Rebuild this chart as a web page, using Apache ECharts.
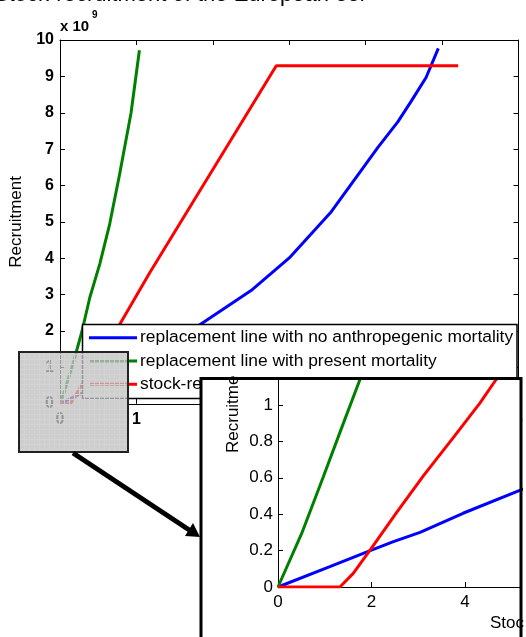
<!DOCTYPE html>
<html>
<head>
<meta charset="utf-8">
<script src="https://cdn.jsdelivr.net/npm/echarts@6/dist/echarts.min.js"></script>
<style>
html,body{margin:0;padding:0;background:#fff;}
#chart{width:526px;height:637px;}
</style>
</head>
<body>
<div id="chart"></div>
<script>
// ---- data (stock in units of 1e9, recruitment in units of 1e9) ----
const seriesNames = [
  'replacement line with no anthropegenic mortality',
  'replacement line with present mortality',
  'stock-recruitment relationship'
];
const seriesColors = ['#0000ff', '#008000', '#ff0000'];

const blueX = [0, 0.111, 0.2, 0.247, 0.304, 0.396, 0.52, 1.0, 1.82, 2.5, 3.0, 3.55, 4.16, 4.42, 4.59, 4.79, 4.95];
const blueY = [0, 0.112, 0.203, 0.249, 0.30, 0.405, 0.533, 1.1, 2.16, 3.11, 4.01, 5.28, 7.05, 7.75, 8.30, 8.97, 9.77];

const greenX = [0, 0.0507, 0.097, 0.14, 0.175, 0.286, 0.39, 0.52, 0.65, 0.78, 0.93, 1.039];
const greenY = [0, 0.294, 0.606, 0.90, 1.137, 1.98, 2.92, 3.84, 4.94, 6.31, 8.0, 9.72];

const redX = [0, 0.1326, 0.161, 0.197, 0.254, 0.311, 0.378, 0.432, 0.466, 0.76, 1.17, 2.0, 2.83, 5.21];
const redY = [0, 0, 0.075, 0.203, 0.41, 0.61, 0.83, 1.01, 1.137, 2.1, 3.59, 6.44, 9.29, 9.29];

const mainXTicks = [0, 1, 2, 3, 4, 5, 6];
const mainYTicks = [0, 1, 2, 3, 4, 5, 6, 7, 8, 9, 10];
const insetXTickLabels = ['0', '2', '4'];
const insetYTickLabels = ['0', '0.2', '0.4', '0.6', '0.8', '1'];

const titleText = 'Stock-recruitment of the European eel';
const yName = 'Recruitment';

function pairs(xs, ys) { return xs.map((x, i) => [x, ys[i]]); }
const dataSets = [pairs(blueX, blueY), pairs(greenX, greenY), pairs(redX, redY)];

const FONT = '"Liberation Sans", Arial, Helvetica, sans-serif';

// pattern for the magnifier overlay
const pc = document.createElement('canvas');
pc.width = 5; pc.height = 5;
const pctx = pc.getContext('2d');
pctx.fillStyle = 'rgba(192,192,192,0.78)';
pctx.fillRect(0, 0, 5, 5);
pctx.fillStyle = 'rgba(212,212,212,0.9)';
pctx.fillRect(4, 0, 1, 5);
pctx.fillRect(0, 4, 5, 1);

const chart = echarts.init(document.getElementById('chart'), null, {renderer: 'canvas'});

const mainAxisLabel = {fontFamily: FONT, fontSize: 16, fontWeight: 'bold', color: '#000'};
const axisLineBlack = {show: true, onZero: false, lineStyle: {color: '#000', width: 1}};

const series = [];
dataSets.forEach((d, i) => {
  series.push({
    type: 'line', name: seriesNames[i], xAxisIndex: 0, yAxisIndex: 0,
    data: d, showSymbol: false, symbol: 'none', z: 2,
    lineStyle: {color: seriesColors[i], width: 3}, animation: false
  });
});
dataSets.forEach((d, i) => {
  series.push({
    type: 'line', name: seriesNames[i] + ' (inset)', xAxisIndex: 2, yAxisIndex: 2,
    data: d, showSymbol: false, symbol: 'none', z: 30, clip: true,
    lineStyle: {color: seriesColors[i], width: 3}, animation: false
  });
});

// legend graphic built from series names
const legendChildren = [{
  type: 'rect', shape: {x: 82.5, y: 324.5, width: 434.5, height: 74},
  style: {fill: '#fff', stroke: '#000', lineWidth: 1.5}, z: 10
}];
seriesNames.forEach((n, i) => {
  const y = 337.7 + i * 23.3;
  legendChildren.push({type: 'line', shape: {x1: 89, y1: y, x2: 137, y2: y},
    style: {stroke: seriesColors[i], lineWidth: 3}, z: 11});
  legendChildren.push({type: 'text', x: 140, y: y, z: 11,
    style: {text: n, fontFamily: FONT, fontSize: 17.4, fill: '#000', verticalAlign: 'middle', align: 'left'}});
});

chart.setOption({
  animation: false,
  backgroundColor: '#fff',
  grid: [
    {left: 60, top: 40, width: 462, height: 363.75, containLabel: false},
    {left: 278, top: 380, width: 243, height: 207, containLabel: false}
  ],
  xAxis: [
    {type: 'value', gridIndex: 0, min: 0, max: 6, interval: 1, position: 'bottom',
     axisLine: axisLineBlack, axisTick: {show: true, inside: true, length: 5, lineStyle: {color: '#000'}},
     axisLabel: Object.assign({margin: 8, formatter: v => String(mainXTicks[Math.round(v)])}, mainAxisLabel),
     splitLine: {show: false}},
    {type: 'value', gridIndex: 0, min: 0, max: 6, interval: 1, position: 'top',
     axisLine: axisLineBlack, axisTick: {show: true, inside: true, length: 5, lineStyle: {color: '#000'}},
     axisLabel: {show: false}, splitLine: {show: false}},
    {type: 'value', gridIndex: 1, min: 0, max: 0.52, interval: 0.2, position: 'bottom', z: 30,
     axisLine: {show: true, onZero: false, lineStyle: {color: '#000', width: 1}},
     axisTick: {show: true, inside: true, length: 5, lineStyle: {color: '#000'}},
     axisLabel: {margin: 7, fontFamily: FONT, fontSize: 17, color: '#000',
       formatter: v => insetXTickLabels[Math.round(v / 0.2)] || ''},
     splitLine: {show: false}}
  ],
  yAxis: [
    {type: 'value', gridIndex: 0, min: 0, max: 10, interval: 1, position: 'left',
     axisLine: axisLineBlack, axisTick: {show: true, inside: true, length: 5, lineStyle: {color: '#000'}},
     axisLabel: Object.assign({margin: 6, formatter: v => String(mainYTicks[Math.round(v)])}, mainAxisLabel),
     name: yName, nameLocation: 'middle', nameGap: 33, nameRotate: 90,
     nameTextStyle: {fontFamily: FONT, fontSize: 17, color: '#000'},
     splitLine: {show: false}},
    {type: 'value', gridIndex: 0, min: 0, max: 10, interval: 1, position: 'right',
     axisLine: axisLineBlack, axisTick: {show: true, inside: true, length: 5, lineStyle: {color: '#000'}},
     axisLabel: {show: false}, splitLine: {show: false}},
    {type: 'value', gridIndex: 1, min: 0, max: 1.137, interval: 0.2, position: 'left', z: 30,
     axisLine: {show: true, onZero: false, lineStyle: {color: '#000', width: 1}},
     axisTick: {show: true, inside: true, length: 5, lineStyle: {color: '#000'}},
     axisLabel: {margin: 5, fontFamily: FONT, fontSize: 17, color: '#000', showMaxLabel: false,
       formatter: v => insetYTickLabels[Math.round(v / 0.2)] || ''},
     splitLine: {show: false}}
  ],
  series: series,
  graphic: [
    {type: 'text', x: -6, y: 5.7, z: 1,
     style: {text: titleText, fontFamily: FONT, fontSize: 22, fill: '#000', verticalAlign: 'bottom', align: 'left'}},
    {type: 'text', x: 60, y: 27, z: 1,
     style: {text: 'x 10', fontFamily: FONT, fontSize: 15, fontWeight: 'bold', fill: '#000', verticalAlign: 'middle'}},
    {type: 'text', x: 92, y: 15, z: 1,
     style: {text: '9', fontFamily: FONT, fontSize: 10, fontWeight: 'bold', fill: '#000', verticalAlign: 'middle'}},
    {type: 'group', children: legendChildren},
    // inset background
    {type: 'rect', shape: {x: 201, y: 378.5, width: 320, height: 300}, style: {fill: '#fff'}, z: 20},
    {type: 'text', x: 233, y: 453, rotation: Math.PI / 2, z: 21,
     style: {text: 'Recruitme', fontFamily: FONT, fontSize: 17, fill: '#000', verticalAlign: 'middle', align: 'left'}},
    {type: 'text', x: 490, y: 623, z: 21,
     style: {text: 'Stoc', fontFamily: FONT, fontSize: 17, fill: '#000', verticalAlign: 'middle', align: 'left'}},
    {type: 'rect', shape: {x: 201, y: 378.5, width: 320, height: 300},
     style: {fill: 'none', stroke: '#000', lineWidth: 3}, z: 40},
    // magnifier overlay
    {type: 'rect', shape: {x: 19, y: 352, width: 109, height: 100},
     style: {fill: {image: pc, repeat: 'repeat'}, stroke: '#222', lineWidth: 2}, z: 50},
    // arrow
    {type: 'line', shape: {x1: 73, y1: 453, x2: 190, y2: 530.5},
     style: {stroke: '#000', lineWidth: 5}, z: 50},
    {type: 'polygon', shape: {points: [[200, 537], [185, 536], [193, 523]]},
     style: {fill: '#000'}, z: 50}
  ]
});
</script>
</body>
</html>
